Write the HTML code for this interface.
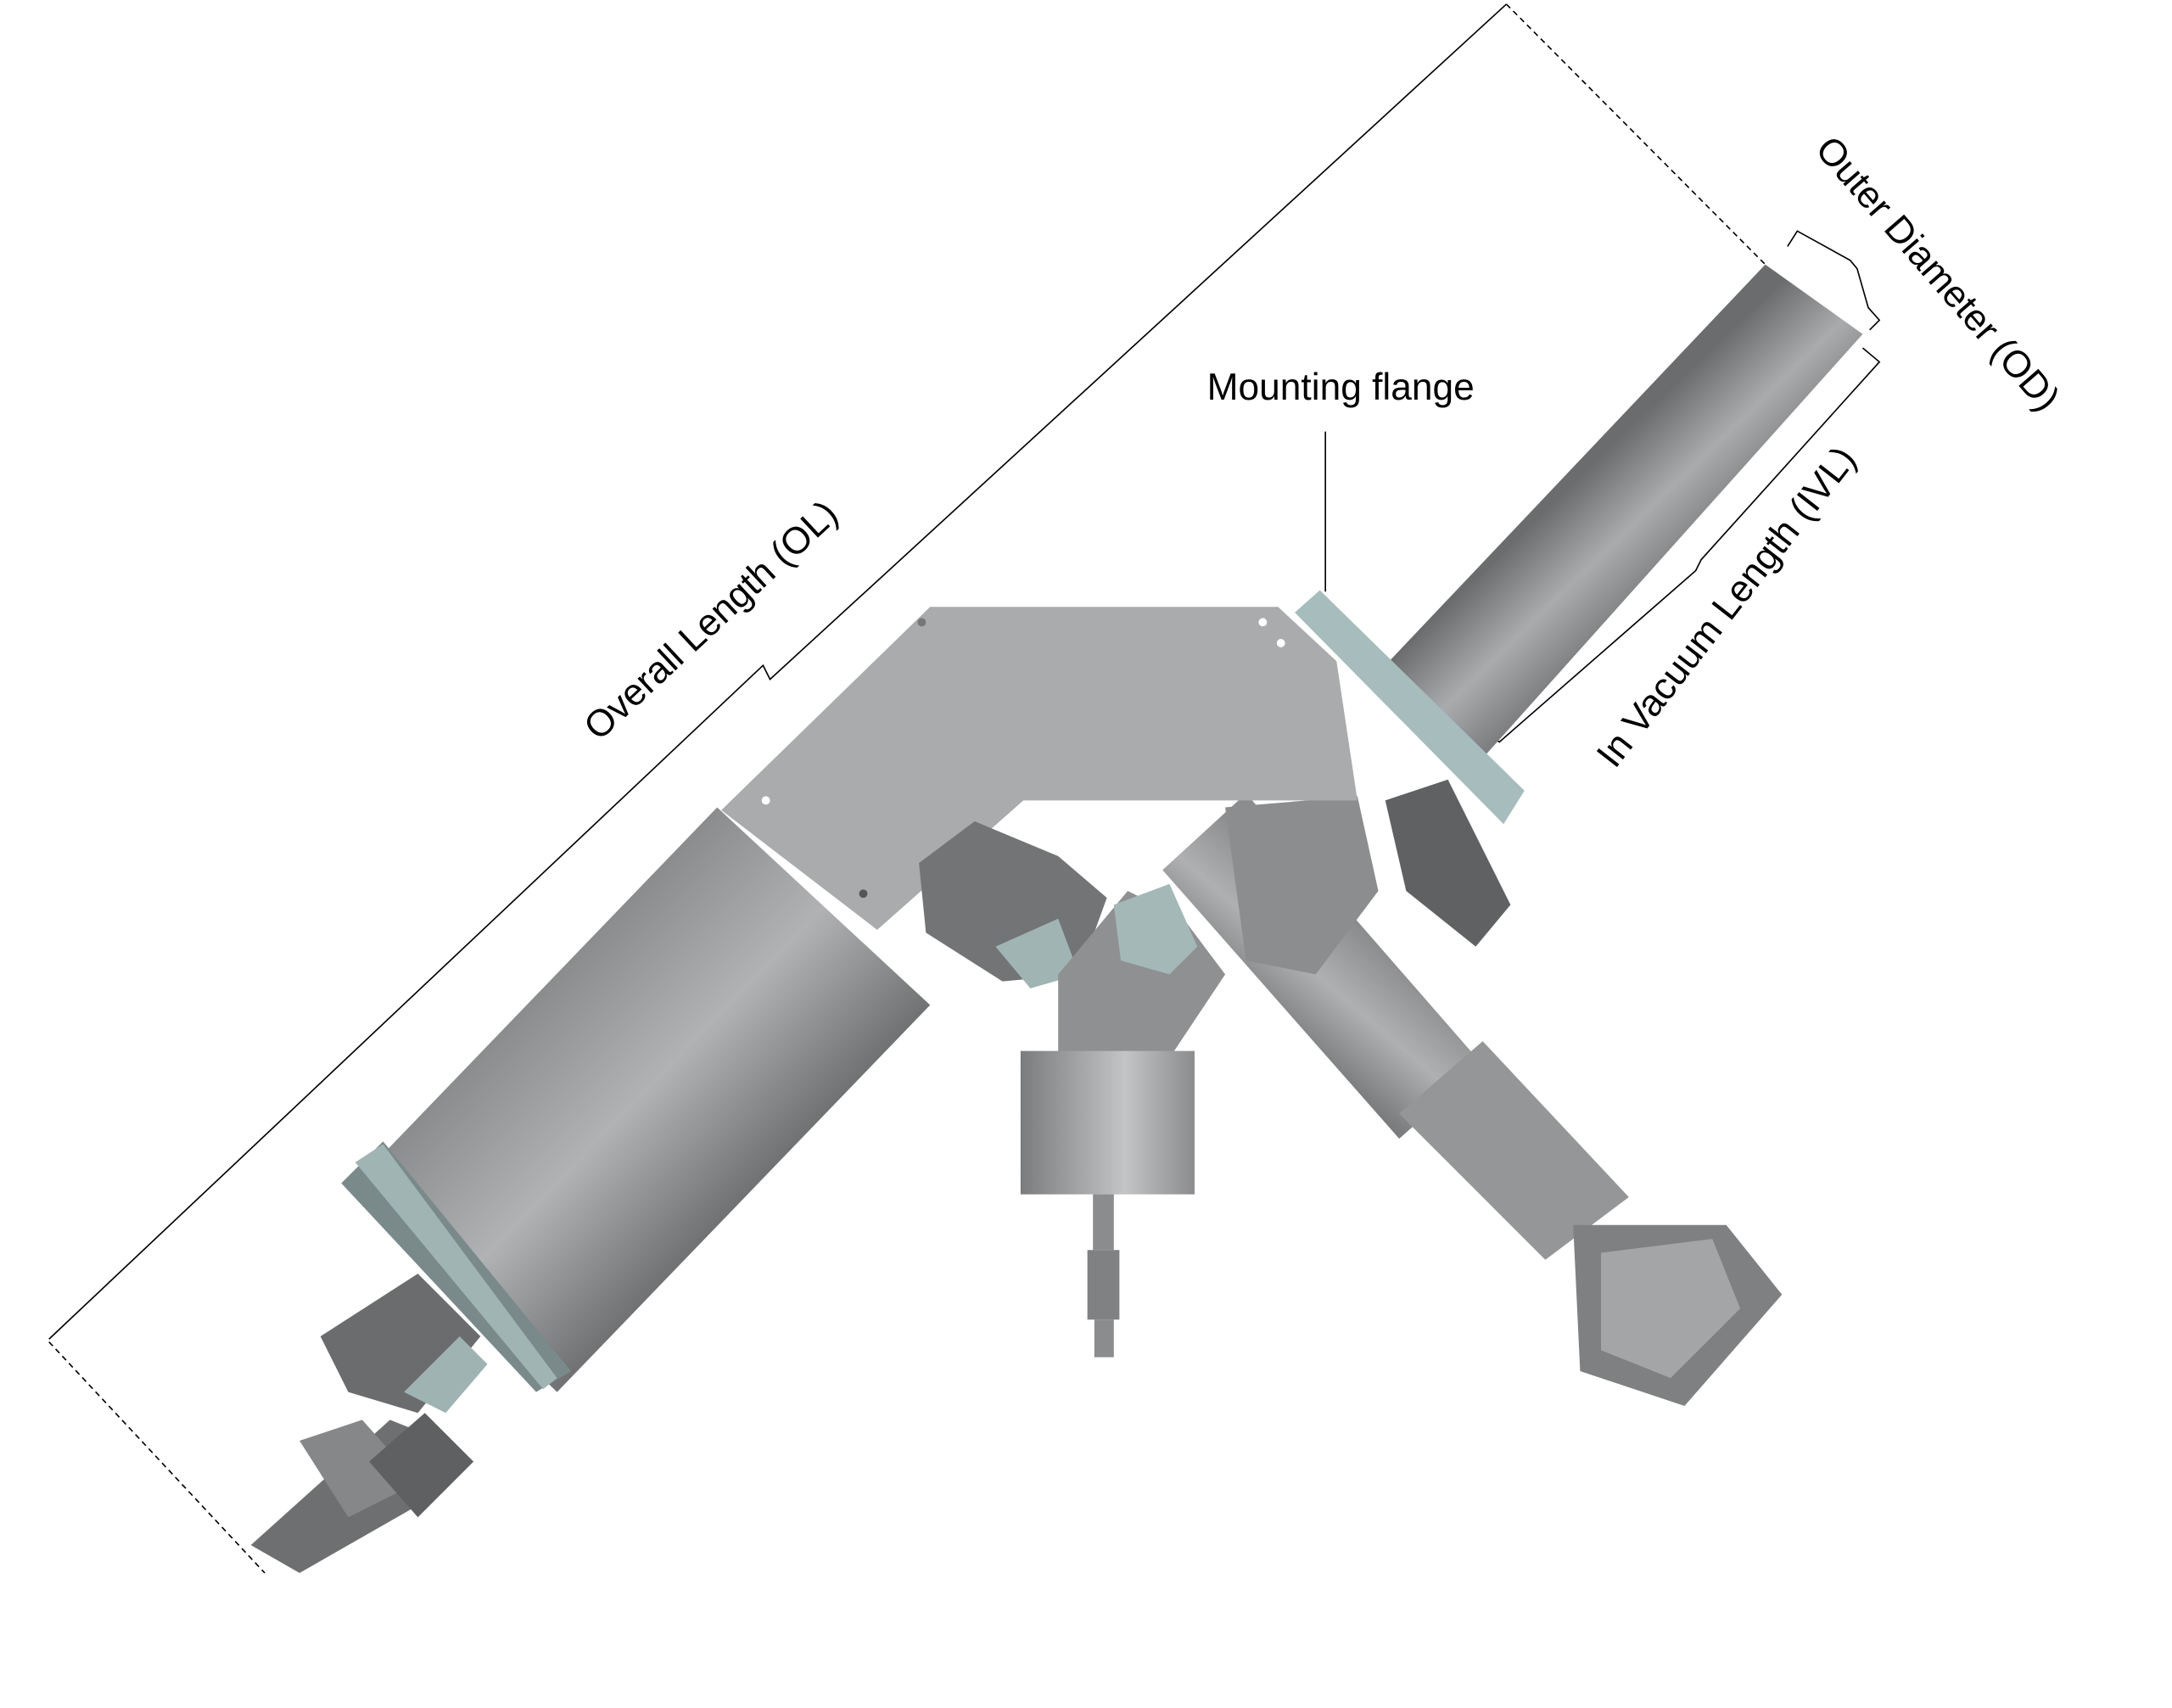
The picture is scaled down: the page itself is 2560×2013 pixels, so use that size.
<!DOCTYPE html>
<html><head><meta charset="utf-8"><style>
html,body{margin:0;padding:0;background:#fff;width:2560px;height:2013px;overflow:hidden}
svg{display:block}
text{font-family:"Liberation Sans","DejaVu Sans",sans-serif;fill:#000}
</style></head><body>
<svg width="2560" height="2013" viewBox="0 0 1560 1227" xmlns="http://www.w3.org/2000/svg">
<defs>
<linearGradient id="cyl" gradientUnits="userSpaceOnUse" x1="250" y1="855" x2="400" y2="1000">
<stop offset="0" stop-color="#8a8c8e"/><stop offset="0.5" stop-color="#b0b2b4"/><stop offset="1" stop-color="#6f7173"/></linearGradient>
<linearGradient id="tube" gradientUnits="userSpaceOnUse" x1="995" y1="478" x2="1060" y2="545">
<stop offset="0" stop-color="#6a6c6e"/><stop offset="0.55" stop-color="#a9abad"/><stop offset="1" stop-color="#7d7f81"/></linearGradient>
<linearGradient id="arm" gradientUnits="userSpaceOnUse" x1="915" y1="735" x2="975" y2="665">
<stop offset="0" stop-color="#7a7c7e"/><stop offset="0.5" stop-color="#aeb0b2"/><stop offset="1" stop-color="#8a8c8e"/></linearGradient>
<linearGradient id="vc" x1="0" x2="1" y1="0" y2="0">
<stop offset="0" stop-color="#7a7c7e"/><stop offset="0.6" stop-color="#c2c4c6"/><stop offset="1" stop-color="#8a8c8e"/></linearGradient>
</defs>

<g fill="none" stroke="#000" stroke-width="1">
<polyline points="35,962 548,478 553,488 1082,3"/>
<line x1="1082" y1="3" x2="1268" y2="190" stroke-dasharray="4,3"/>
<line x1="35" y1="964" x2="190" y2="1130" stroke-dasharray="4,3"/>
<polyline points="1284,177 1291,166 1329,187 1334,193 1342,221 1350,230 1343,237"/>
<polyline points="1338,250 1350,260 1222,402 1218,410 1077,533 1068,527"/>
<line x1="952" y1="310" x2="952" y2="425"/>
</g>

<polygon points="1268,190 1338,240 1062,548 995,478" fill="url(#tube)"/>
<!-- right arm -->
<polygon points="835,625 895,570 1065,765 1005,818" fill="url(#arm)"/>
<polygon points="880,580 975,572 990,640 945,700 895,690" fill="#8b8d8f"/>
<polygon points="1005,800 1065,748 1170,860 1110,905" fill="#949698"/>
<polygon points="1130,880 1240,880 1280,930 1210,1010 1135,985" fill="#7e8082"/>
<polygon points="1150,900 1230,890 1250,940 1200,990 1150,970" fill="#a3a5a7"/>
<polygon points="995,575 1040,560 1085,650 1060,680 1010,640" fill="#5f6163"/>
<polygon points="930,440 948,424 1095,568 1080,592" fill="#a7bcbc"/>
<polygon points="668,436 918,436 960,475 975,575 735,575 630,668 518,582" fill="#a9abad"/>
<polygon points="660,620 700,590 760,615 795,645 775,700 720,705 665,670" fill="#727476"/>
<polygon points="715,680 760,660 775,700 740,710" fill="#a0b4b4"/>
<polygon points="760,700 810,640 850,660 880,700 840,760 760,760" fill="#8e9092"/>
<polygon points="800,650 840,635 860,680 840,700 805,690" fill="#a4b8b8"/>
<rect x="733" y="755" width="125" height="103" fill="url(#vc)"/>
<rect x="785" y="858" width="15" height="40" fill="#8a8c8e"/>
<rect x="781" y="898" width="23" height="50" fill="#7f8183"/>
<rect x="786" y="948" width="14" height="27" fill="#8a8c8e"/>
<polygon points="515,580 668,722 400,1000 250,855" fill="url(#cyl)"/>
<polygon points="245,850 275,820 410,985 385,1000" fill="#7a8a8a"/>
<polygon points="255,835 275,822 400,990 390,998" fill="#a0b4b4"/>
<polygon points="230,960 300,915 345,960 300,1015 250,1000" fill="#6a6c6e"/>
<polygon points="290,1000 330,960 350,980 320,1015" fill="#9fb3b3"/>
<polygon points="180,1110 280,1020 330,1040 320,1070 215,1130" fill="#6d6f71"/>
<polygon points="215,1035 260,1020 300,1065 250,1090" fill="#858789"/>
<polygon points="265,1050 305,1015 340,1050 300,1090" fill="#5e6062"/>
<g fill="#fff"><circle cx="920" cy="462" r="3"/><circle cx="907" cy="447" r="3"/><circle cx="550" cy="575" r="3"/></g>
<circle cx="662" cy="447" r="3" fill="#777"/><circle cx="620" cy="642" r="3" fill="#555"/>

<text x="963" y="287" font-size="27" text-anchor="middle">Mounting flange</text>
<text transform="translate(430,533) rotate(-43)" font-size="27">Overall Length (OL)</text>
<text transform="translate(1303,108) rotate(49)" font-size="27">Outer Diameter (OD)</text>
<text transform="translate(1160,553) rotate(-52)" font-size="27">In Vacuum Length (IVL)</text>
</svg>
</body></html>
